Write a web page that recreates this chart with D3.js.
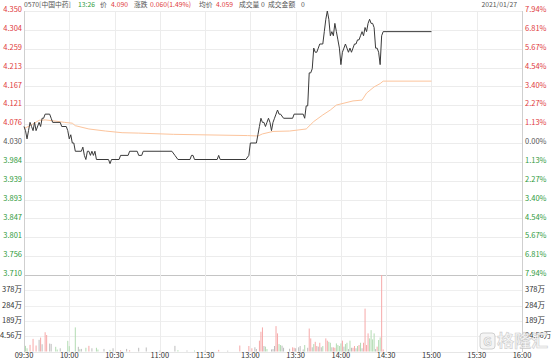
<!DOCTYPE html>
<html><head><meta charset="utf-8">
<script src="https://cdn.jsdelivr.net/npm/d3@7"></script>
<style>html,body{margin:0;padding:0;background:#fff;}svg{display:block;}</style>
</head><body>
<script>
// ---------- data ----------
const prevClose = 4.030;
const priceTicks = ["4.350","4.304","4.259","4.213","4.167","4.121","4.076","4.030","3.984","3.939","3.893","3.847","3.801","3.756","3.710"];
const pctTicks   = ["7.94%","6.81%","5.67%","4.54%","3.40%","2.27%","1.13%","0.00%","1.13%","2.27%","3.40%","4.54%","5.67%","6.81%","7.94%"];
const volTicks   = ["378万","284万","189万","94.56万"];
const volTickVals = [378.24, 283.68, 189.12, 94.56];
const volMax = 472.8;
const timeLabels = ["09:30","10:00","10:30","11:00","11:30","13:00","13:30","14:00","14:30","15:00","15:30","16:00"];
const timeMinutes = [0,30,60,90,120,150,180,210,240,270,300,330];

// minutes from 09:30 (lunch break removed) and price
const priceMin = [0,1,2,3,4,5,6,7,8,10,11,12,13,14,17,18,19,24,25,28,29,30,31,32,33,34,38,39,40,41,42,43,44,45,46,47,48,56,57,58,63,64,69,70,75,76,78,79,98,100,102,110,111,112,113,128,129,130,147,149,150,154,155,156,157,158,159,160,161,162,163,164,165,166,167,168,169,170,172,178,179,185,186,187,188,189,190,191,192,193,194,195,196,198,199,200,201,202,203,204,205,206,207,208,209,210,211,212,213,214,215,216,217,218,219,220,221,222,223,224,225,226,227,228,229,230,231,232,233,234,235,236,237,238,270];
const priceVal = [4.07,4.06,4.04,4.06,4.08,4.07,4.06,4.08,4.06,4.08,4.07,4.09,4.09,4.10,4.10,4.09,4.08,4.08,4.07,4.07,4.06,4.04,4.05,4.03,4.03,4.01,4.01,4.02,4.00,3.99,4.01,4.01,4.00,4.01,4.00,4.01,3.99,3.99,3.98,3.99,3.99,4.00,4.00,4.01,4.01,4.00,4.00,4.01,4.01,4.00,3.99,3.99,4.00,4.00,3.99,3.99,4.00,3.99,3.99,4.00,4.03,4.03,4.05,4.07,4.09,4.08,4.08,4.07,4.08,4.09,4.08,4.06,4.08,4.09,4.10,4.11,4.10,4.10,4.09,4.09,4.10,4.10,4.09,4.12,4.12,4.20,4.20,4.21,4.26,4.25,4.25,4.26,4.27,4.27,4.30,4.33,4.35,4.33,4.29,4.30,4.29,4.32,4.30,4.28,4.26,4.22,4.25,4.26,4.27,4.26,4.25,4.26,4.25,4.26,4.27,4.27,4.28,4.28,4.29,4.30,4.29,4.31,4.30,4.32,4.33,4.32,4.32,4.31,4.26,4.26,4.25,4.22,4.29,4.30,4.30];

const avgMin = [0,5,10,14,21,27,32,34,43,54,65,76,99,148,155,158,165,176,187,192,198,203,207,218,224,227,232,236,238,270];
const avgVal = [4.065,4.074,4.085,4.086,4.083,4.080,4.078,4.072,4.064,4.059,4.055,4.054,4.051,4.048,4.047,4.052,4.058,4.059,4.064,4.082,4.098,4.110,4.122,4.132,4.134,4.151,4.166,4.174,4.180,4.180];

// volume bars (万), direction r=up g=down n=flat
const volMin = [1,2,4,6,8,10,11,12,14,15,17,18,21,22,24,29,30,34,36,37,38,41,43,45,48,49,53,57,59,64,68,70,76,81,90,100,102,108,113,120,129,135,143,
 149,151,153,154,156,157,158,159,160,161,164,165,166,167,168,169,170,171,172,176,178,179,180,182,183,185,186,188,189,190,191,192,193,194,195,196,197,198,200,201,202,203,204,205,206,207,208,209,210,211,212,213,214,215,216,217,218,219,220,221,222,223,224,225,226,227,228,229,230,231,232,233,234,235,236,237,238];
const volVal = [35,20,41,78,37,72,86,45,119,102,49,47,29,12,20,66,33,149,29,14,16,23,35,20,23,12,16,10,20,8,16,8,23,25,6,35,8,6,6,5,10,5,37,
 34,20,26,15,67,122,149,34,30,15,13,15,34,157,112,46,40,36,23,17,26,23,20,26,34,13,40,23,142,81,26,46,60,34,30,54,26,34,81,67,60,54,26,26,23,50,40,34,50,67,30,46,54,15,67,23,23,34,20,34,40,54,20,54,265,40,112,81,132,75,112,15,30,71,87,472.8,13];
const volDir = ["g","g","r","r","r","n","r","n","r","r","n","n","g","g","n","g","g","g","n","g","n","g","r","n","g","g","n","g","n","r","n","r","n","n","n","n","g","n","g","n","r","n","r",
 "r","r","n","n","r","r","r","n","g","g","n","n","n","r","r","g","g","n","n","n","r","r","n","n","n","n","g","n","r","r","n","g","r","r","n","r","n","g","r","r","g","g","n","r","r","g","g","g","g","r","n","g","g","n","g","n","r","r","n","g","r","g","n","r","r","r","r","g","g","g","g","n","r","g","g","r","r"];

// ---------- drawing ----------
const W = 554, H = 362;
const RED = "#e0393b", GREEN = "#2f9a3c", GRAY = "#555";
const FONT = "'Noto Sans CJK SC','Noto Sans',sans-serif";
const svg = d3.select("body").append("svg").attr("width", W).attr("height", H)
  .style("font-family", FONT).style("font-size", "7.5px");

const x = d3.scaleLinear().domain([0, 330]).range([24, 522]);
const y = d3.scaleLinear().domain([3.71, 4.35]).range([275, 11]);
const yv = d3.scaleLinear().domain([0, volMax]).range([351.5, 275]);

const colorFor = v => Math.abs(v - prevClose) < 1e-6 ? GRAY : (v > prevClose ? RED : GREEN);

// grid
const grid = svg.append("g");
grid.selectAll(".hg").data(priceTicks).join("line")
  .attr("x1", 24).attr("x2", 522)
  .attr("y1", d => Math.round(y(+d)) + 0.5).attr("y2", d => Math.round(y(+d)) + 0.5)
  .attr("stroke", (d, i) => i === priceTicks.length - 1 ? "#c4c4c4" : "#ececec");
grid.selectAll(".vg").data(volTickVals).join("line")
  .attr("x1", 24).attr("x2", 522)
  .attr("y1", d => Math.round(yv(d)) + 0.5).attr("y2", d => Math.round(yv(d)) + 0.5)
  .attr("stroke", "#efefef");
grid.selectAll(".tg").data(timeMinutes).join("line")
  .attr("x1", d => Math.round(x(d)) + 0.5).attr("x2", d => Math.round(x(d)) + 0.5)
  .attr("y1", 11).attr("y2", 352)
  .attr("stroke", (d, i) => (i === 0 || i === timeMinutes.length - 1) ? "#cfcfcf" : "#ececec");
grid.append("line").attr("x1", 24).attr("x2", 522).attr("y1", 352.5).attr("y2", 352.5).attr("stroke", "#e6e6e6");

// volume bars
const bars = volMin.map((m, i) => ({ m, v: volVal[i], d: volDir[i] }));
const barColor = { r: "#f6a9a9", g: "#b3dcb3", n: "#bdbdbd" };
svg.append("g").selectAll("rect").data(bars).join("rect")
  .attr("x", d => x(d.m) - 0.5).attr("width", 1)
  .attr("y", d => yv(d.v)).attr("height", d => yv(0) - yv(d.v))
  .attr("fill", d => barColor[d.d]);

// lines
const avgData = avgMin.map((m, i) => ({ m, p: avgVal[i] }));
const priceData = priceMin.map((m, i) => ({ m, p: priceVal[i] }));
const line = d3.line().x(d => x(d.m)).y(d => y(d.p));
svg.append("path").datum(avgData).attr("d", line).attr("fill", "none")
  .attr("stroke", "#fcc49c").attr("stroke-width", 1);
svg.append("path").datum(priceData).attr("d", line).attr("fill", "none")
  .attr("stroke", "#3a3a3a").attr("stroke-width", 1);

// left price labels
svg.append("g").selectAll("text").data(priceTicks).join("text")
  .attr("x", 22).attr("y", d => y(+d) - 1).attr("text-anchor", "end")
  .attr("dominant-baseline", "middle").attr("fill", d => colorFor(+d)).text(d => d);
// right percent labels
svg.append("g").selectAll("text").data(pctTicks).join("text")
  .attr("x", 525).attr("y", (d, i) => y(+priceTicks[i]) - 1)
  .attr("dominant-baseline", "middle").attr("fill", (d, i) => colorFor(+priceTicks[i])).text(d => d);
// volume labels
svg.append("g").selectAll("text").data(volTicks).join("text")
  .attr("x", 22).attr("y", (d, i) => yv(volTickVals[i]))
  .attr("text-anchor", "end").attr("dominant-baseline", "middle").attr("fill", "#333").text(d => d);
svg.append("g").selectAll("text").data(volTicks).join("text")
  .attr("x", 525).attr("y", (d, i) => yv(volTickVals[i]))
  .attr("dominant-baseline", "middle").attr("fill", "#333").text(d => d);
// time labels
svg.append("g").selectAll("text").data(timeLabels).join("text")
  .attr("x", (d, i) => x(timeMinutes[i])).attr("y", 356)
  .attr("text-anchor", "middle").attr("dominant-baseline", "middle").attr("fill", "#333").text(d => d);

// header
const header = [
  ["0570[中国中药]", 24, GRAY], ["13:26", 78, GREEN], ["价", 100, GRAY], ["4.090", 111, RED],
  ["涨跌", 134, GRAY], ["0.060(1.49%)", 150, RED], ["均价", 199, GRAY], ["4.059", 216, RED],
  ["成交量", 239, GRAY], ["0", 261, GRAY], ["成交金额", 268, GRAY], ["0", 301, GRAY]
];
svg.append("g").style("font-size", "6.8px").selectAll("text").data(header).join("text")
  .attr("x", d => d[1]).attr("y", 5.5).attr("dominant-baseline", "middle")
  .attr("fill", d => d[2]).text(d => d[0]);
svg.append("text").attr("x", 517).attr("y", 5.5).attr("text-anchor", "end").style("font-size", "6.8px")
  .attr("dominant-baseline", "middle").attr("fill", GRAY).text("2021/01/27");

// watermark
const wm = svg.append("g").attr("opacity", 0.85);
wm.append("rect").attr("x", 480).attr("y", 333).attr("width", 15).attr("height", 16).attr("rx", 3)
  .attr("fill", "#f4f4f4").attr("stroke", "#c8c8c8").attr("stroke-width", 1);
wm.append("text").attr("x", 487.5).attr("y", 345.5).attr("text-anchor", "middle")
  .style("font-size", "12px").style("font-weight", "bold").attr("fill", "#fff").attr("stroke", "#c0c0c0")
  .attr("stroke-width", 0.7).text("G");
wm.append("text").attr("x", 497).attr("y", 347).style("font-size", "17px").style("font-weight", "bold")
  .attr("fill", "#f6f6f6").attr("stroke", "#c4c4c4").attr("stroke-width", 0.6).text("格隆汇");
</script>
</body></html>
